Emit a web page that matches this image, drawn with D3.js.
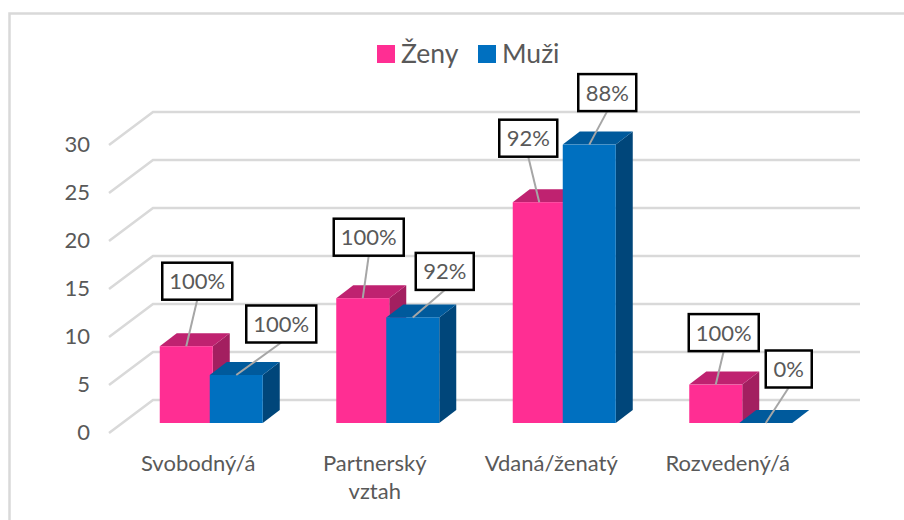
<!DOCTYPE html>
<html>
<head>
<meta charset="utf-8">
<script src="https://cdnjs.cloudflare.com/ajax/libs/d3/7.8.5/d3.min.js"></script>
<style>
  html, body { margin: 0; padding: 0; background: #fff; }
  svg { display: block; }
  text { font-family: Lato, "Open Sans", sans-serif; fill: #595959; }
</style>
</head>
<body>
<svg id="chart" width="904" height="520"></svg>
<script>
// Values
const categories = ["Svobodný/á", "Partnerský vztah", "Vdaná/ženatý", "Rozvedený/á"];
const zeny = [8, 13, 23, 4];
const muzi = [5, 11, 29, 0];
const zenyLabels = ["100%", "100%", "92%", "100%"];
const muziLabels = ["100%", "92%", "88%", "0%"];
const yTicks = [0, 5, 10, 15, 20, 25, 30];

// Where each callout box was dragged to, relative to the bar top (dx, dy of box centre)
const zenyCallouts = [[11, -65], [6, -61], [-11, -64], [8, -52]];
const muziCallouts = [[45, -51], [32, -46], [18, -52], [23, -54]];

const width = 904, height = 520;
const svg = d3.select("#chart");

const colors = {
  zeny: { front: "#ff2e93", top: "#bf2270", side: "#a31f60" },
  muzi: { front: "#0070c0", top: "#005a9c", side: "#00467a" }
};

// Frame
svg.append("path")
  .attr("d", "M9.5,520V13.5H904")
  .attr("fill", "none")
  .attr("stroke", "#d9d9d9")
  .attr("stroke-width", 2.5);

// Scales - y is the front plane of the 3D box
const y = d3.scaleLinear().domain([0, 30]).range([423, 135]);
const x = d3.scaleBand().domain(categories).range([123, 829]);
const barW = 53;
const overlap = 3;
const depthX = 17, depthY = 13; // bar depth
const wallX = 44, wallY = 33; // side wall of the plot

const frontLeft = 109;
const backLeft = frontLeft + wallX;
const backRight = 860;

// Grid on the back and side wall
const grid = svg.append("g")
  .attr("fill", "none")
  .attr("stroke", "#d9d9d9")
  .attr("stroke-width", 2.5);

yTicks.forEach((t) => {
  const yFront = y(t) + 10;
  grid.append("path")
    .attr("d", `M${frontLeft},${yFront}L${backLeft},${yFront - wallY}H${backRight}`);
});

// Y tick labels
svg.append("g")
  .selectAll("text")
  .data(yTicks)
  .join("text")
  .attr("x", 90)
  .attr("y", (d) => y(d) + 16.5)
  .attr("text-anchor", "end")
  .attr("font-size", 22)
  .text((d) => d);

// X labels (wrapped by hand like the original)
const xLabels = svg.append("g");
categories.forEach((c) => {
  const cx = x(c) + x.bandwidth() / 2 - 13;
  const words = c.split(" ");
  words.forEach((w, i) => {
    xLabels.append("text")
      .attr("x", cx)
      .attr("y", 471 + i * 28)
      .attr("text-anchor", "middle")
      .attr("font-size", 22)
      .text(w);
  });
});

// A single 3D bar
function drawBar(g, x0, val, pal) {
  const top = y(val), base = y(0);
  const points = (p) => p.map((d) => d.join(",")).join(" ");
  g.append("polygon")
    .attr("points", points([[x0 + barW, top], [x0 + barW + depthX, top - depthY], [x0 + barW + depthX, base - depthY], [x0 + barW, base]]))
    .attr("fill", pal.side);
  g.append("polygon")
    .attr("points", points([[x0, top], [x0 + depthX, top - depthY], [x0 + barW + depthX, top - depthY], [x0 + barW, top]]))
    .attr("fill", pal.top);
  g.append("rect")
    .attr("x", x0)
    .attr("y", top)
    .attr("width", barW)
    .attr("height", base - top)
    .attr("fill", pal.front);
}

const bars = svg.append("g");
categories.forEach((c, i) => {
  const mid = x(c) + x.bandwidth() / 2;
  const xZ = mid - barW + overlap / 2;
  const xM = mid - overlap / 2;
  drawBar(bars.append("g"), xZ, zeny[i], colors.zeny);
  drawBar(bars.append("g"), xM, muzi[i], colors.muzi);
});

// Callout with a leader line
function drawCallout(g, px, py, off, label) {
  const boxW = label.length > 3 ? 70 : (label.length > 2 ? 58 : 46);
  const boxH = 37;
  const cx = px + off[0], cy = py + off[1];
  g.append("line")
    .attr("x1", px)
    .attr("y1", py)
    .attr("x2", cx)
    .attr("y2", cy + boxH / 2)
    .attr("stroke", "#a6a6a6")
    .attr("stroke-width", 2);
  g.append("rect")
    .attr("x", cx - boxW / 2)
    .attr("y", cy - boxH / 2)
    .attr("width", boxW)
    .attr("height", boxH)
    .attr("fill", "#fff")
    .attr("stroke", "#000")
    .attr("stroke-width", 2.5);
  g.append("text")
    .attr("x", cx)
    .attr("y", cy + 8)
    .attr("text-anchor", "middle")
    .attr("font-size", 22)
    .text(label);
}

const callouts = svg.append("g");
categories.forEach((c, i) => {
  const mid = x(c) + x.bandwidth() / 2;
  drawCallout(callouts, mid - barW / 2 + overlap / 2, y(zeny[i]), zenyCallouts[i], zenyLabels[i]);
  drawCallout(callouts, mid + barW / 2 - overlap / 2, y(muzi[i]), muziCallouts[i], muziLabels[i]);
});

// Legend
const legend = svg.append("g");
[["Ženy", colors.zeny.front, 377], ["Muži", colors.muzi.front, 478]].forEach(([name, col, lx]) => {
  legend.append("rect")
    .attr("x", lx)
    .attr("y", 45)
    .attr("width", 18)
    .attr("height", 18)
    .attr("fill", col);
  legend.append("text")
    .attr("x", lx + 24)
    .attr("y", 63)
    .attr("font-size", 26.5)
    .text(name);
});
</script>
</body>
</html>
